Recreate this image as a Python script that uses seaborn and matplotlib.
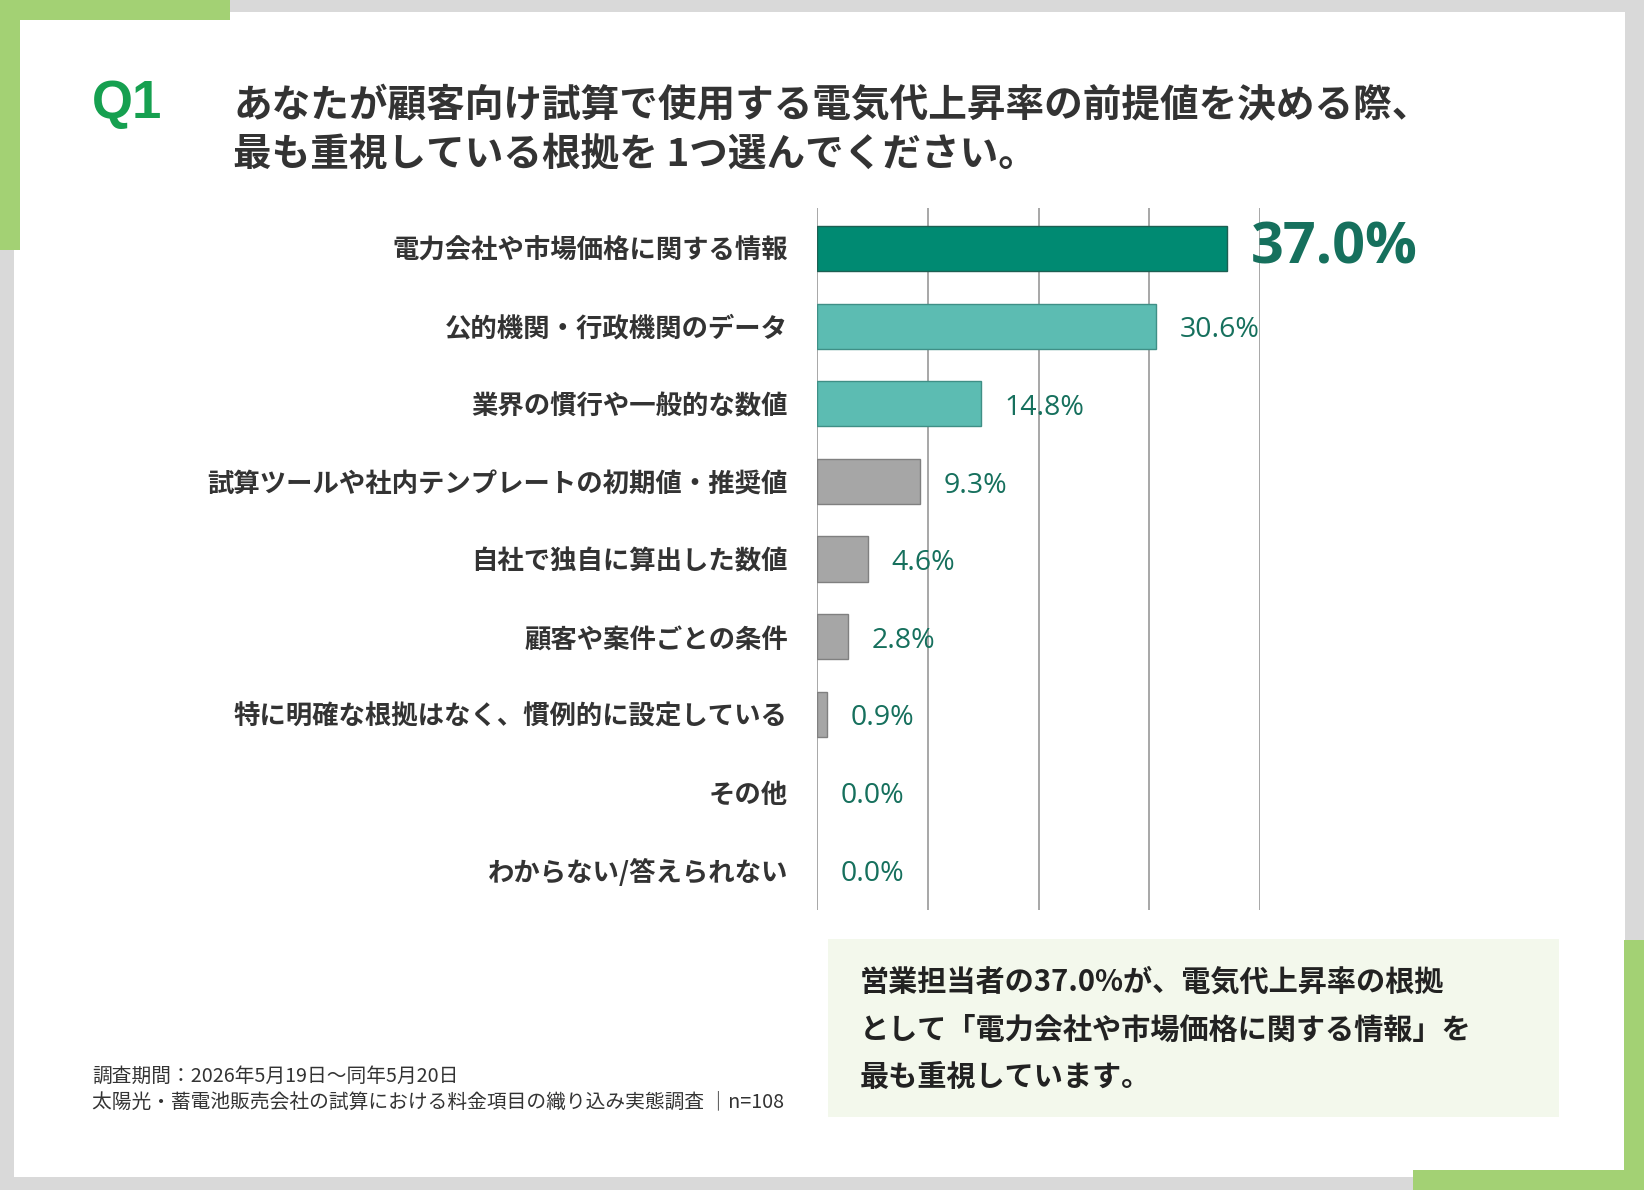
import matplotlib
matplotlib.use("Agg")
import matplotlib.pyplot as plt
from matplotlib.patches import Rectangle
import pandas as pd
import seaborn as sns

# --- data -----------------------------------------------------------------
categories = [
    "電力会社や市場価格に関する情報",
    "公的機関・行政機関のデータ",
    "業界の慣行や一般的な数値",
    "試算ツールや社内テンプレートの初期値・推奨値",
    "自社で独自に算出した数値",
    "顧客や案件ごとの条件",
    "特に明確な根拠はなく、慣例的に設定している",
    "その他",
    "わからない/答えられない",
]
shares = [37.0, 30.6, 14.8, 9.3, 4.6, 2.8, 0.9, 0.0, 0.0]
bar_colors = ["#008a72", "#5cbcb2", "#5cbcb2"] + ["#a6a6a6"] * 6
edge_colors = ["#1d5f52", "#3f8f86", "#3f8f86"] + ["#808080"] * 6

title_lines = [
    "あなたが顧客向け試算で使用する電気代上昇率の前提値を決める際、",
    "最も重視している根拠を 1つ選んでください。",
]
note_lines = [
    "営業担当者の37.0%が、電気代上昇率の根拠",
    "として「電力会社や市場価格に関する情報」を",
    "最も重視しています。",
]
footer_lines = [
    "調査期間：2026年5月19日～同年5月20日",
    "太陽光・蓄電池販売会社の試算における料金項目の織り込み実態調査 ｜n=108",
]

W, H = 1644, 1190
GREEN = "#a3d174"
VALUE_COLOR = "#16705d"

sns.set_theme(style="white")
plt.rcParams["font.family"] = ["Noto Sans CJK JP", "DejaVu Sans"]

fig = plt.figure(figsize=(W / 100, H / 100), dpi=100)
fig.patch.set_facecolor("#d9d9d9")


def box(x0, y0, x1, y1, color):
    # rectangle given in pixel coords, origin at top-left
    fig.patches.append(Rectangle((x0 / W, 1 - y1 / H), (x1 - x0) / W, (y1 - y0) / H,
                                 transform=fig.transFigure, color=color, zorder=0, lw=0))


def text(x, y, s, **kw):
    fig.text(x / W, 1 - y / H, s, **kw)


# white page + green corner brackets
box(14, 12, 1625, 1177, "white")
box(0, 0, 230, 20, GREEN)
box(0, 0, 20, 250, GREEN)
box(1624, 940, 1644, 1190, GREEN)
box(1413, 1170, 1644, 1190, GREEN)
# summary panel
box(828, 939, 1559, 1117, "#f3f8ec")

# header
text(92, 104, "Q1", family=["Liberation Sans"], fontsize=38, fontweight="bold",
     color="#16a050", va="center")
for i, line in enumerate(title_lines):
    text(233, 106 + i * 48, line, fontsize=27.8, fontweight="bold", color="#333333", va="center")

# --- bar chart ---------------------------------------------------------------
df = pd.DataFrame({"category": categories, "share": shares})
ax = fig.add_axes([817 / W, 1 - 910 / H, (1260 - 817) / W, (910 - 208) / H])
ax.set_zorder(3)
ax.patch.set_alpha(0)
sns.barplot(data=df, y="category", x="share", hue="category", palette=bar_colors,
            order=categories, legend=False, width=0.58, ax=ax, saturation=1)
for patch, ec, v in zip(ax.patches, edge_colors, shares):
    patch.set_edgecolor(ec)
    patch.set_linewidth(1.0 if v > 0 else 0)

ax.set_xlim(0, 40)
ax.set_ylim(len(categories) - 0.48, -0.52)
ax.set_xticks([0, 10, 20, 30, 40])
ax.set_xticklabels([])
ax.xaxis.grid(True, color="#a0a0a0", lw=1.3)
ax.set_axisbelow(True)
for s in ax.spines.values():
    s.set_visible(False)
ax.set_xlabel("")
ax.set_ylabel("")
ax.tick_params(axis="y", length=0, pad=21)
ax.tick_params(axis="x", length=0)
for lab in ax.get_yticklabels():
    lab.set_fontsize(19)
    lab.set_fontweight("bold")
    lab.set_color("#333333")

for i, v in enumerate(shares):
    if i == 0:
        ax.annotate(f"{v:.1f}%", (v, i), xytext=(17, 0), textcoords="offset points",
                    va="center", ha="left", family=["Open Sans", "DejaVu Sans"],
                    fontsize=41.5, fontweight="bold", color=VALUE_COLOR, annotation_clip=False)
    else:
        ax.annotate(f"{v:.1f}%", (v, i), xytext=(17, -3), textcoords="offset points",
                    va="center", ha="left", family=["Open Sans", "DejaVu Sans"],
                    fontsize=20.5, color=VALUE_COLOR, annotation_clip=False)

# --- summary + footer --------------------------------------------------------
for i, line in enumerate(note_lines):
    text(860, 982 + i * 47.5, line, fontsize=21, fontweight="bold", color="#222222", va="center")

for i, line in enumerate(footer_lines):
    text(92, 1076 + i * 26, line, fontsize=14.2, color="#333333", va="center")

fig.savefig("out.png", dpi=100, facecolor=fig.get_facecolor())
